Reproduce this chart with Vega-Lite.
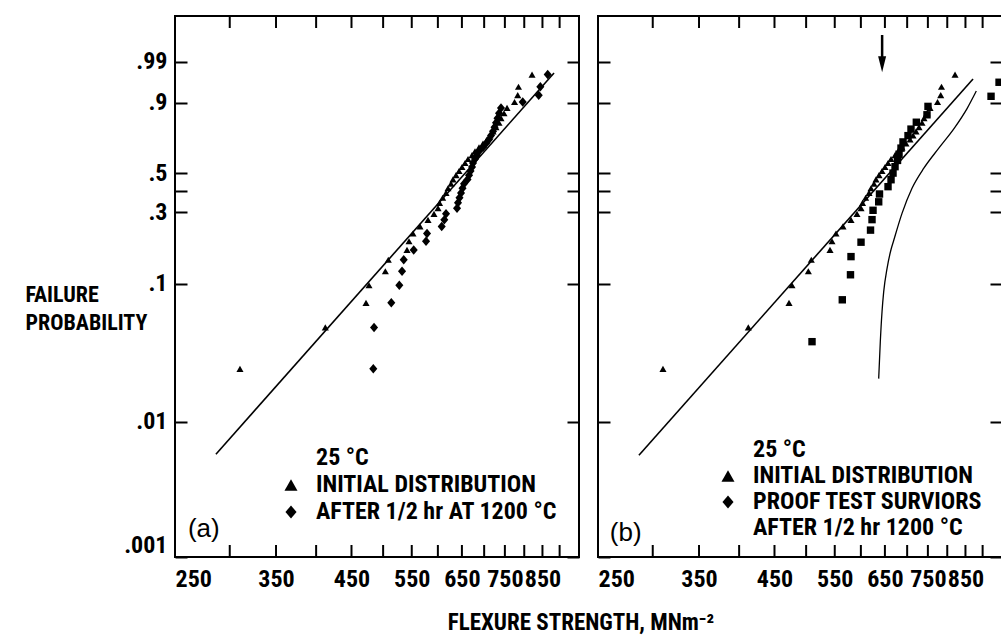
{
  "$schema": "https://vega.github.io/schema/vega-lite/v6.json",
  "background": "white",
  "padding": {"left": 24, "top": 14, "right": 0, "bottom": 0},
  "config": {
    "font": "Roboto Condensed, Liberation Sans Narrow, DejaVu Sans Condensed, Liberation Sans, sans-serif",
    "view": {"stroke": "black", "strokeWidth": 2},
    "axis": {
      "domain": false, "grid": false, "ticks": true, "tickColor": "black", "tickWidth": 2, "tickSize": 12, "offset": -12, "tickOpacity": 1,
      "labelFont": "Roboto Condensed, Liberation Sans Narrow, DejaVu Sans Condensed, Liberation Sans, sans-serif",
      "labelFontSize": 24, "labelFontWeight": "bold", "labelColor": "black", "labelOverlap": false,
      "titleFont": "Roboto Condensed, Liberation Sans Narrow, DejaVu Sans Condensed, Liberation Sans, sans-serif",
      "titleColor": "black"
    },
    "legend": {
      "labelFont": "Roboto Condensed, Liberation Sans Narrow, DejaVu Sans Condensed, Liberation Sans, sans-serif",
      "labelFontSize": 24, "labelFontWeight": "bold", "labelColor": "black", "labelLimit": 400,
      "symbolFillColor": "black", "symbolStrokeColor": "black", "symbolStrokeWidth": 0, "symbolSize": 170, "padding": 0
    }
  },
  "title": {
    "text": "FLEXURE STRENGTH, MNm⁻²", "orient": "bottom", "anchor": "middle", "offset": 20, "dx": 67,
    "font": "Roboto Condensed, Liberation Sans Narrow, DejaVu Sans Condensed, Liberation Sans, sans-serif",
    "fontSize": 23, "fontWeight": "bold", "color": "black"
  },
  "datasets": {
    "xticks": [
      {"strength": 300}, {"strength": 350}, {"strength": 400}, {"strength": 450}, {"strength": 500}, {"strength": 550}, {"strength": 600},
      {"strength": 650}, {"strength": 700}, {"strength": 750}, {"strength": 800}, {"strength": 850}, {"strength": 900}
    ],
    "points": [
      {"series": "INITIAL DISTRIBUTION", "strength": 310.4, "lnln": -3.7012},
      {"series": "INITIAL DISTRIBUTION", "strength": 412.4, "lnln": -2.9955},
      {"series": "INITIAL DISTRIBUTION", "strength": 472.3, "lnln": -2.5772},
      {"series": "INITIAL DISTRIBUTION", "strength": 477.0, "lnln": -2.2764},
      {"series": "INITIAL DISTRIBUTION", "strength": 503.7, "lnln": -2.0398},
      {"series": "INITIAL DISTRIBUTION", "strength": 508.7, "lnln": -1.8437},
      {"series": "INITIAL DISTRIBUTION", "strength": 541.4, "lnln": -1.6755},
      {"series": "INITIAL DISTRIBUTION", "strength": 545.0, "lnln": -1.5276},
      {"series": "INITIAL DISTRIBUTION", "strength": 552.3, "lnln": -1.3950},
      {"series": "INITIAL DISTRIBUTION", "strength": 565.3, "lnln": -1.2744},
      {"series": "INITIAL DISTRIBUTION", "strength": 580.6, "lnln": -1.1635},
      {"series": "INITIAL DISTRIBUTION", "strength": 592.3, "lnln": -1.0605},
      {"series": "INITIAL DISTRIBUTION", "strength": 600.3, "lnln": -0.9640},
      {"series": "INITIAL DISTRIBUTION", "strength": 603.3, "lnln": -0.8729},
      {"series": "INITIAL DISTRIBUTION", "strength": 609.7, "lnln": -0.7864},
      {"series": "INITIAL DISTRIBUTION", "strength": 616.5, "lnln": -0.7038},
      {"series": "INITIAL DISTRIBUTION", "strength": 620.6, "lnln": -0.6245},
      {"series": "INITIAL DISTRIBUTION", "strength": 626.8, "lnln": -0.5481},
      {"series": "INITIAL DISTRIBUTION", "strength": 631.0, "lnln": -0.4740},
      {"series": "INITIAL DISTRIBUTION", "strength": 637.4, "lnln": -0.4019},
      {"series": "INITIAL DISTRIBUTION", "strength": 643.8, "lnln": -0.3315},
      {"series": "INITIAL DISTRIBUTION", "strength": 650.2, "lnln": -0.2625},
      {"series": "INITIAL DISTRIBUTION", "strength": 656.8, "lnln": -0.1946},
      {"series": "INITIAL DISTRIBUTION", "strength": 663.4, "lnln": -0.1274},
      {"series": "INITIAL DISTRIBUTION", "strength": 672.3, "lnln": -0.0608},
      {"series": "INITIAL DISTRIBUTION", "strength": 679.0, "lnln": 0.0055},
      {"series": "INITIAL DISTRIBUTION", "strength": 688.1, "lnln": 0.0718},
      {"series": "INITIAL DISTRIBUTION", "strength": 697.3, "lnln": 0.1386},
      {"series": "INITIAL DISTRIBUTION", "strength": 706.7, "lnln": 0.2060},
      {"series": "INITIAL DISTRIBUTION", "strength": 713.8, "lnln": 0.2744},
      {"series": "INITIAL DISTRIBUTION", "strength": 721.0, "lnln": 0.3443},
      {"series": "INITIAL DISTRIBUTION", "strength": 728.2, "lnln": 0.4163},
      {"series": "INITIAL DISTRIBUTION", "strength": 735.5, "lnln": 0.4911},
      {"series": "INITIAL DISTRIBUTION", "strength": 740.4, "lnln": 0.5697},
      {"series": "INITIAL DISTRIBUTION", "strength": 747.8, "lnln": 0.6533},
      {"series": "INITIAL DISTRIBUTION", "strength": 755.4, "lnln": 0.7439},
      {"series": "INITIAL DISTRIBUTION", "strength": 774.5, "lnln": 0.8447},
      {"series": "INITIAL DISTRIBUTION", "strength": 782.8, "lnln": 0.9612},
      {"series": "INITIAL DISTRIBUTION", "strength": 784.8, "lnln": 1.1054},
      {"series": "INITIAL DISTRIBUTION", "strength": 821.0, "lnln": 1.3120},
      {"series": "AFTER 1/2 hr AT 1200 °C", "strength": 483.9, "lnln": -3.7012},
      {"series": "AFTER 1/2 hr AT 1200 °C", "strength": 485.1, "lnln": -2.9955},
      {"series": "AFTER 1/2 hr AT 1200 °C", "strength": 513.8, "lnln": -2.5772},
      {"series": "AFTER 1/2 hr AT 1200 °C", "strength": 527.7, "lnln": -2.2764},
      {"series": "AFTER 1/2 hr AT 1200 °C", "strength": 532.5, "lnln": -2.0398},
      {"series": "AFTER 1/2 hr AT 1200 °C", "strength": 535.5, "lnln": -1.8437},
      {"series": "AFTER 1/2 hr AT 1200 °C", "strength": 553.6, "lnln": -1.6755},
      {"series": "AFTER 1/2 hr AT 1200 °C", "strength": 576.8, "lnln": -1.5276},
      {"series": "AFTER 1/2 hr AT 1200 °C", "strength": 578.7, "lnln": -1.3950},
      {"series": "AFTER 1/2 hr AT 1200 °C", "strength": 607.7, "lnln": -1.2744},
      {"series": "AFTER 1/2 hr AT 1200 °C", "strength": 613.0, "lnln": -1.1635},
      {"series": "AFTER 1/2 hr AT 1200 °C", "strength": 616.5, "lnln": -1.0605},
      {"series": "AFTER 1/2 hr AT 1200 °C", "strength": 639.5, "lnln": -0.9640},
      {"series": "AFTER 1/2 hr AT 1200 °C", "strength": 641.6, "lnln": -0.8729},
      {"series": "AFTER 1/2 hr AT 1200 °C", "strength": 644.8, "lnln": -0.7864},
      {"series": "AFTER 1/2 hr AT 1200 °C", "strength": 648.1, "lnln": -0.7038},
      {"series": "AFTER 1/2 hr AT 1200 °C", "strength": 651.3, "lnln": -0.6245},
      {"series": "AFTER 1/2 hr AT 1200 °C", "strength": 654.6, "lnln": -0.5481},
      {"series": "AFTER 1/2 hr AT 1200 °C", "strength": 662.2, "lnln": -0.4740},
      {"series": "AFTER 1/2 hr AT 1200 °C", "strength": 665.6, "lnln": -0.4019},
      {"series": "AFTER 1/2 hr AT 1200 °C", "strength": 668.9, "lnln": -0.3315},
      {"series": "AFTER 1/2 hr AT 1200 °C", "strength": 672.3, "lnln": -0.2625},
      {"series": "AFTER 1/2 hr AT 1200 °C", "strength": 674.5, "lnln": -0.1946},
      {"series": "AFTER 1/2 hr AT 1200 °C", "strength": 679.0, "lnln": -0.1274},
      {"series": "AFTER 1/2 hr AT 1200 °C", "strength": 683.5, "lnln": -0.0608},
      {"series": "AFTER 1/2 hr AT 1200 °C", "strength": 688.1, "lnln": 0.0055},
      {"series": "AFTER 1/2 hr AT 1200 °C", "strength": 697.3, "lnln": 0.0718},
      {"series": "AFTER 1/2 hr AT 1200 °C", "strength": 704.3, "lnln": 0.1386},
      {"series": "AFTER 1/2 hr AT 1200 °C", "strength": 711.4, "lnln": 0.2060},
      {"series": "AFTER 1/2 hr AT 1200 °C", "strength": 716.2, "lnln": 0.2744},
      {"series": "AFTER 1/2 hr AT 1200 °C", "strength": 721.0, "lnln": 0.3443},
      {"series": "AFTER 1/2 hr AT 1200 °C", "strength": 724.6, "lnln": 0.4163},
      {"series": "AFTER 1/2 hr AT 1200 °C", "strength": 728.2, "lnln": 0.4911},
      {"series": "AFTER 1/2 hr AT 1200 °C", "strength": 731.8, "lnln": 0.5697},
      {"series": "AFTER 1/2 hr AT 1200 °C", "strength": 735.5, "lnln": 0.6533},
      {"series": "AFTER 1/2 hr AT 1200 °C", "strength": 740.4, "lnln": 0.7439},
      {"series": "AFTER 1/2 hr AT 1200 °C", "strength": 795.9, "lnln": 0.8447},
      {"series": "AFTER 1/2 hr AT 1200 °C", "strength": 839.5, "lnln": 0.9612},
      {"series": "AFTER 1/2 hr AT 1200 °C", "strength": 844.0, "lnln": 1.1054},
      {"series": "AFTER 1/2 hr AT 1200 °C", "strength": 865.0, "lnln": 1.3120},
      {"series": "PROOF TEST SURVIORS", "strength": 509.9, "lnln": -3.2387},
      {"series": "PROOF TEST SURVIORS", "strength": 564.0, "lnln": -2.5252},
      {"series": "PROOF TEST SURVIORS", "strength": 579.6, "lnln": -2.0988},
      {"series": "PROOF TEST SURVIORS", "strength": 580.6, "lnln": -1.7894},
      {"series": "PROOF TEST SURVIORS", "strength": 600.3, "lnln": -1.5438},
      {"series": "PROOF TEST SURVIORS", "strength": 619.6, "lnln": -1.3380},
      {"series": "PROOF TEST SURVIORS", "strength": 622.7, "lnln": -1.1594},
      {"series": "PROOF TEST SURVIORS", "strength": 624.8, "lnln": -1.0004},
      {"series": "PROOF TEST SURVIORS", "strength": 636.7, "lnln": -0.8559},
      {"series": "PROOF TEST SURVIORS", "strength": 638.4, "lnln": -0.7226},
      {"series": "PROOF TEST SURVIORS", "strength": 656.8, "lnln": -0.5977},
      {"series": "PROOF TEST SURVIORS", "strength": 663.4, "lnln": -0.4796},
      {"series": "PROOF TEST SURVIORS", "strength": 667.8, "lnln": -0.3665},
      {"series": "PROOF TEST SURVIORS", "strength": 672.3, "lnln": -0.2572},
      {"series": "PROOF TEST SURVIORS", "strength": 677.9, "lnln": -0.1506},
      {"series": "PROOF TEST SURVIORS", "strength": 681.3, "lnln": -0.0455},
      {"series": "PROOF TEST SURVIORS", "strength": 685.8, "lnln": 0.0591},
      {"series": "PROOF TEST SURVIORS", "strength": 690.4, "lnln": 0.1644},
      {"series": "PROOF TEST SURVIORS", "strength": 702.0, "lnln": 0.2717},
      {"series": "PROOF TEST SURVIORS", "strength": 709.0, "lnln": 0.3828},
      {"series": "PROOF TEST SURVIORS", "strength": 721.7, "lnln": 0.5000},
      {"series": "PROOF TEST SURVIORS", "strength": 747.8, "lnln": 0.6269},
      {"series": "PROOF TEST SURVIORS", "strength": 750.3, "lnln": 0.7699},
      {"series": "PROOF TEST SURVIORS", "strength": 925.6, "lnln": 0.9419},
      {"series": "PROOF TEST SURVIORS", "strength": 950.6, "lnln": 1.1811}
    ],
    "fits": [
      {"panel": "a", "strength": 286.5, "lnln": -5.156},
      {"panel": "a", "strength": 883.4, "lnln": 1.340},
      {"panel": "b", "strength": 286.5, "lnln": -5.173},
      {"panel": "b", "strength": 871.7, "lnln": 1.238}
    ],
    "curve": [
      {"strength": 636.7, "lnln": -3.868},
      {"strength": 640.1, "lnln": -3.241},
      {"strength": 643.8, "lnln": -2.728},
      {"strength": 647.4, "lnln": -2.386},
      {"strength": 654.6, "lnln": -1.993},
      {"strength": 663.4, "lnln": -1.668},
      {"strength": 669.3, "lnln": -1.515},
      {"strength": 688.1, "lnln": -1.053},
      {"strength": 711.4, "lnln": -0.626},
      {"strength": 740.4, "lnln": -0.279},
      {"strength": 778.3, "lnln": 0.063},
      {"strength": 819.6, "lnln": 0.405},
      {"strength": 854.5, "lnln": 0.733},
      {"strength": 881.3, "lnln": 1.032}
    ]
  },
  "resolve": {"scale": {"shape": "independent"}, "legend": {"shape": "independent"}},
  "spacing": 15,
  "hconcat": [
    {
      "width": 404, "height": 541,
      "resolve": {"axis": {"x": "independent", "y": "independent"}},
      "layer": [
        {
          "data": {"name": "fits"},
          "transform": [{"filter": "datum.panel == 'a'"}],
          "mark": {"type": "line", "color": "black", "strokeWidth": 1.6},
          "encoding": {
            "x": {"field": "strength", "type": "quantitative", "scale": {"type": "log", "domain": [250, 960], "nice": false},
              "axis": {"orient": "bottom", "title": null, "values": [250,350,450,550,650,750,850], "tickCount": 40,
                "offset": 0, "ticks": false,
                "labelExpr": "format(datum.value, 'd')",
                "labelFlush": true, "labelPadding": 10}},
            "y": {"field": "lnln", "type": "quantitative", "scale": {"domain": [-6.9073, 2.31], "nice": false, "zero": false},
              "axis": {"orient": "left", "values": [-6.9073,-4.6002,-2.2504,-1.0309,-0.6717,-0.3665,0.834,1.5272], "tickCount": 40,
                "labelExpr": "datum.value < -6 ? '.001' : datum.value < -4 ? '.01' : datum.value < -2 ? '.1' : datum.value < -0.9 ? '.3' : datum.value < -0.5 ? '' : datum.value < 0 ? '.5' : datum.value < 1 ? '.9' : '.99'",
                "labelFlush": 2, "labelPadding": 8,
                "title": ["FAILURE", "PROBABILITY"], "titleAngle": 0, "titleAlign": "left", "titleBaseline": "middle",
                "titleX": -162, "titleY": 278, "titleFontSize": 22, "titleFontWeight": "bold", "titleLineHeight": 28}}
          }
        },
        {
          "data": {"name": "xticks"},
          "mark": {"type": "rule", "color": "black", "strokeWidth": 2},
          "encoding": {
            "x": {"field": "strength", "type": "quantitative", "axis": null},
            "y": {"datum": 2.31, "type": "quantitative", "axis": null},
            "y2": {"datum": 2.1055}
          }
        },
        {
          "data": {"name": "xticks"},
          "mark": {"type": "rule", "color": "black", "strokeWidth": 2},
          "encoding": {
            "x": {"field": "strength", "type": "quantitative", "axis": null},
            "y": {"datum": -6.9073, "type": "quantitative", "axis": null},
            "y2": {"datum": -6.7028}
          }
        },
        {
          "data": {"name": "points"},
          "transform": [{"filter": "datum.series == 'INITIAL DISTRIBUTION'"}],
          "mark": {"type": "point", "filled": true, "color": "black", "opacity": 1, "size": 50},
          "encoding": {
            "x": {"field": "strength", "type": "quantitative", "axis": null},
            "y": {"field": "lnln", "type": "quantitative",
              "axis": {"orient": "right", "title": null, "labels": false, "values": [-6.9073,-4.6002,-2.2504,-1.0309,-0.6717,-0.3665,0.834,1.5272], "tickCount": 40}},
            "shape": {"field": "series", "type": "nominal",
              "scale": {"domain": ["25 °C", "INITIAL DISTRIBUTION", "AFTER 1/2 hr AT 1200 °C"], "range": ["M0,0", "triangle-up", "M-0.85,0L0,-1L0.85,0L0,1Z"]},
              "legend": {"orient": "none", "legendX": 104, "legendY": 430, "title": null, "rowPadding": 3, "labelOffset": 13}}
          }
        },
        {
          "data": {"name": "points"},
          "transform": [{"filter": "datum.series == 'AFTER 1/2 hr AT 1200 °C'"}],
          "mark": {"type": "point", "filled": true, "color": "black", "opacity": 1, "size": 90},
          "encoding": {
            "x": {"field": "strength", "type": "quantitative", "axis": null},
            "y": {"field": "lnln", "type": "quantitative", "axis": null},
            "shape": {"field": "series", "type": "nominal"}
          }
        },
        {
          "data": {"values": [{}]},
          "mark": {"type": "text", "text": "(a)", "font": "Liberation Sans, Arial, sans-serif", "fontSize": 26, "align": "left", "baseline": "middle", "color": "black"},
          "encoding": {
            "x": {"datum": 261, "type": "quantitative", "axis": null},
            "y": {"datum": -6.43, "type": "quantitative", "axis": null}
          }
        }
      ]
    },
    {
      "width": 404, "height": 541,
      "resolve": {"axis": {"x": "independent", "y": "independent"}},
      "layer": [
        {
          "data": {"name": "fits"},
          "transform": [{"filter": "datum.panel == 'b'"}],
          "mark": {"type": "line", "color": "black", "strokeWidth": 1.6},
          "encoding": {
            "x": {"field": "strength", "type": "quantitative", "scale": {"type": "log", "domain": [250, 960], "nice": false},
              "axis": {"orient": "bottom", "title": null, "values": [250,350,450,550,650,750,850], "tickCount": 40,
                "offset": 0, "ticks": false,
                "labelExpr": "format(datum.value, 'd')",
                "labelFlush": true, "labelPadding": 10}},
            "y": {"field": "lnln", "type": "quantitative", "scale": {"domain": [-6.9073, 2.31], "nice": false, "zero": false},
              "axis": {"orient": "left", "title": null, "labels": false, "values": [-6.9073,-4.6002,-2.2504,-1.0309,-0.6717,-0.3665,0.834,1.5272], "tickCount": 40}}
          }
        },
        {
          "data": {"name": "xticks"},
          "mark": {"type": "rule", "color": "black", "strokeWidth": 2},
          "encoding": {
            "x": {"field": "strength", "type": "quantitative", "axis": null},
            "y": {"datum": 2.31, "type": "quantitative", "axis": null},
            "y2": {"datum": 2.1055}
          }
        },
        {
          "data": {"name": "xticks"},
          "mark": {"type": "rule", "color": "black", "strokeWidth": 2},
          "encoding": {
            "x": {"field": "strength", "type": "quantitative", "axis": null},
            "y": {"datum": -6.9073, "type": "quantitative", "axis": null},
            "y2": {"datum": -6.7028}
          }
        },
        {
          "data": {"name": "curve"},
          "mark": {"type": "line", "color": "black", "strokeWidth": 1.3, "interpolate": "monotone"},
          "encoding": {
            "x": {"field": "strength", "type": "quantitative", "axis": null},
            "y": {"field": "lnln", "type": "quantitative",
              "axis": {"orient": "right", "title": null, "labels": false, "values": [-6.9073,-4.6002,-2.2504,-1.0309,-0.6717,-0.3665,0.834,1.5272], "tickCount": 40}}
          }
        },
        {
          "data": {"name": "points"},
          "transform": [{"filter": "datum.series == 'PROOF TEST SURVIORS'"}],
          "mark": {"type": "point", "shape": "square", "filled": true, "color": "black", "opacity": 1, "size": 55},
          "encoding": {
            "x": {"field": "strength", "type": "quantitative", "axis": null},
            "y": {"field": "lnln", "type": "quantitative", "axis": null}
          }
        },
        {
          "data": {"name": "points"},
          "transform": [{"filter": "datum.series == 'INITIAL DISTRIBUTION'"}],
          "mark": {"type": "point", "filled": true, "color": "black", "opacity": 1, "size": 50},
          "encoding": {
            "x": {"field": "strength", "type": "quantitative", "axis": null},
            "y": {"field": "lnln", "type": "quantitative", "axis": null},
            "shape": {"field": "series", "type": "nominal",
              "scale": {"domain": ["25 °C", "INITIAL DISTRIBUTION", "PROOF TEST SURVIORS", "AFTER 1/2 hr 1200 °C"], "range": ["M0,0", "triangle-up", "M-0.85,0L0,-1L0.85,0L0,1Z", "M0,0"]},
              "legend": {"orient": "none", "legendX": 118, "legendY": 422, "title": null, "rowPadding": 2, "labelOffset": 13}}
          }
        },
        {
          "data": {"values": [{}]},
          "mark": {"type": "rule", "color": "black", "strokeWidth": 2.5},
          "encoding": {
            "x": {"datum": 644, "type": "quantitative", "axis": null},
            "y": {"datum": 1.986, "type": "quantitative", "axis": null},
            "y2": {"datum": 1.55}
          }
        },
        {
          "data": {"values": [{}]},
          "mark": {"type": "point", "shape": "M-0.5,-1L0.5,-1L0,1Z", "filled": true, "color": "black", "opacity": 1, "size": 256},
          "encoding": {
            "x": {"datum": 644, "type": "quantitative", "axis": null},
            "y": {"datum": 1.49, "type": "quantitative", "axis": null}
          }
        },
        {
          "data": {"values": [{}]},
          "mark": {"type": "text", "text": "(b)", "font": "Liberation Sans, Arial, sans-serif", "fontSize": 26, "align": "left", "baseline": "middle", "color": "black"},
          "encoding": {
            "x": {"datum": 260, "type": "quantitative", "axis": null},
            "y": {"datum": -6.5, "type": "quantitative", "axis": null}
          }
        }
      ]
    }
  ]
}
